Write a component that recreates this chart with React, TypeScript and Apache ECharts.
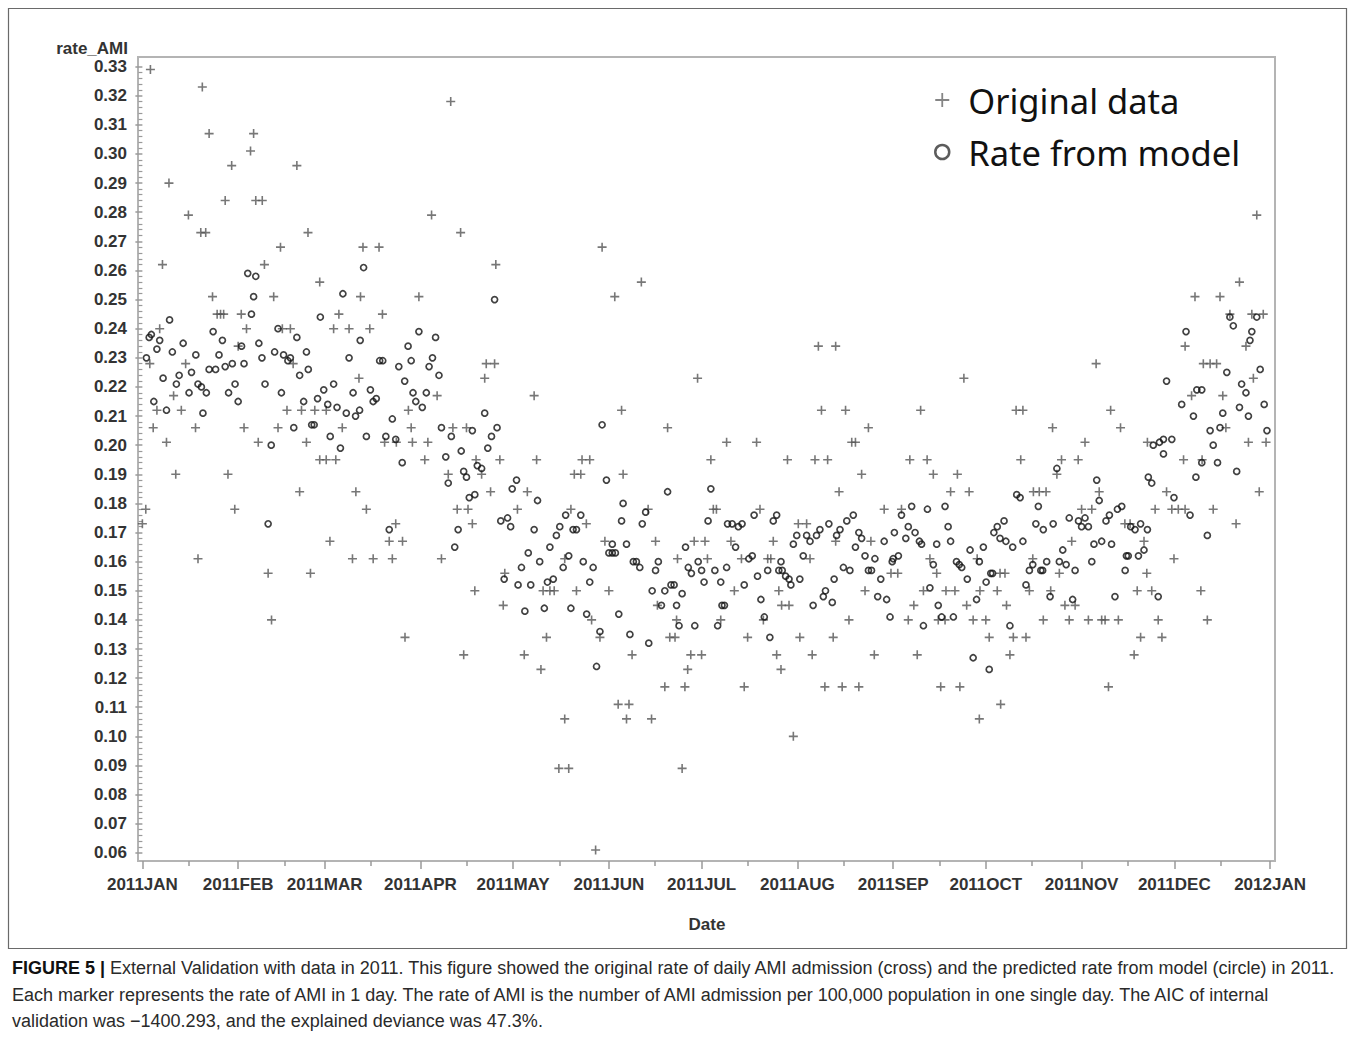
import React, { useEffect, useRef } from 'react';
import * as echarts from 'echarts';

// Day of year (0 = 2011-01-01) where each month starts, and its label
const monthStartDays = [0, 31, 59, 90, 120, 151, 181, 212, 243, 273, 304, 334, 365];
const monthLabels = ['2011JAN', '2011FEB', '2011MAR', '2011APR', '2011MAY', '2011JUN', '2011JUL', '2011AUG', '2011SEP', '2011OCT', '2011NOV', '2011DEC', '2012JAN'];
const midMonthDays = [15, 46, 74, 105, 135, 166, 196, 227, 258, 288, 319, 349];
const yTickLabels = ['0.06', '0.07', '0.08', '0.09', '0.10', '0.11', '0.12', '0.13', '0.14', '0.15', '0.16', '0.17', '0.18', '0.19', '0.20', '0.21', '0.22', '0.23', '0.24', '0.25', '0.26', '0.27', '0.28', '0.29', '0.30', '0.31', '0.32', '0.33'];

// Original data (cross): [day of year, rate_AMI]
const originalData: [number, number][] = [
  [2.6, 0.329], [19.4, 0.323], [21.6, 0.307], [36, 0.307], [35, 0.301], [28.9, 0.296], [50, 0.296], [8.6, 0.290], [26.8, 0.284], [36.7, 0.284], [38.8, 0.284], [14.9, 0.279], [18.9, 0.273], [20.5, 0.273], [53.6, 0.273], [93.6, 0.279], [99.8, 0.318], [103, 0.273], [6.5, 0.262], [39.5, 0.262], [44.7, 0.268], [71.4, 0.268], [76.6, 0.268], [57.4, 0.256], [114.4, 0.262], [22.7, 0.251], [42.5, 0.251], [70.6, 0.251], [89.5, 0.251], [24.2, 0.245], [25.3, 0.245], [26.3, 0.245], [32, 0.245], [63.6, 0.245], [77.7, 0.245], [5.6, 0.240], [33.7, 0.240], [45.3, 0.240], [47.9, 0.240], [61.9, 0.240], [66.9, 0.240], [73.6, 0.240], [31, 0.234], [2.4, 0.228], [14, 0.228], [48.8, 0.228], [111.3, 0.228], [114, 0.228], [10.1, 0.217], [70.1, 0.223], [110.8, 0.223], [95.4, 0.217], [4.7, 0.212], [12.6, 0.212], [46.8, 0.212], [51.5, 0.212], [55.8, 0.212], [59.5, 0.212], [86.1, 0.212], [3.5, 0.206], [17.2, 0.206], [32.9, 0.206], [43.9, 0.206], [64.7, 0.206], [87, 0.206], [100.5, 0.206], [104.9, 0.206], [7.8, 0.201], [37.5, 0.201], [53.1, 0.201], [78.4, 0.201], [82.2, 0.201], [87.4, 0.201], [92.4, 0.201], [57.4, 0.195], [59.5, 0.195], [62.6, 0.195], [91.4, 0.195], [108, 0.195],
  [0, 0.173], [1.1, 0.178], [10.8, 0.190], [18, 0.161], [27.7, 0.190], [29.9, 0.178], [40.7, 0.156], [41.8, 0.140], [50.9, 0.184], [54.4, 0.156], [60.7, 0.167], [68, 0.161], [69.1, 0.184], [72.5, 0.178], [74.7, 0.161], [79.9, 0.167], [80.9, 0.161], [82, 0.173], [84.2, 0.167], [85, 0.134], [96.8, 0.161], [99, 0.190], [101.9, 0.178], [104, 0.128], [105.4, 0.178], [106.8, 0.173], [107.6, 0.150], [109.8, 0.190], [112.7, 0.184],
  [148.8, 0.268], [152.9, 0.251], [161.5, 0.256], [126.8, 0.217], [179.7, 0.223], [218.8, 0.234], [224.4, 0.234], [155.1, 0.212], [170, 0.206], [219.8, 0.212], [227.6, 0.212], [235, 0.206], [189.1, 0.201], [198.8, 0.201], [229.6, 0.201], [230.8, 0.201], [115.7, 0.195], [127.6, 0.195], [142.3, 0.195], [144.8, 0.195], [184, 0.195], [208.8, 0.195], [217.7, 0.195], [221.8, 0.195],
  [139.8, 0.190], [141.9, 0.190], [155.6, 0.190], [232.8, 0.190], [124.6, 0.184], [225.5, 0.184], [121.4, 0.178], [138.7, 0.178], [143.7, 0.173], [163.7, 0.178], [184.8, 0.178], [185.8, 0.178], [199.9, 0.178], [240.1, 0.178], [117.3, 0.156], [149.7, 0.167], [166.1, 0.167], [173.2, 0.161], [178.6, 0.167], [182.1, 0.167], [182.9, 0.161], [190.5, 0.167], [193.9, 0.161], [202.4, 0.161], [203.4, 0.161], [204.2, 0.167], [212.3, 0.173], [215, 0.173], [224.4, 0.167], [235.8, 0.167], [242.3, 0.156], [216.1, 0.161], [136.7, 0.161], [129.7, 0.150], [131.9, 0.150], [133.3, 0.150], [140.5, 0.150], [151, 0.150], [191.6, 0.150], [206, 0.150], [233.9, 0.150], [116.8, 0.145], [166.7, 0.145], [206.9, 0.145], [209.3, 0.145], [145.4, 0.140], [172.9, 0.140], [187.2, 0.140], [201, 0.140], [228.7, 0.140], [130.8, 0.134], [148.1, 0.134], [170.7, 0.134], [172.4, 0.134], [195.9, 0.134], [212.8, 0.134], [223.6, 0.134], [123.6, 0.128], [158.5, 0.128], [177.5, 0.128], [181, 0.128], [205.3, 0.128], [216.8, 0.128], [236.9, 0.128], [129, 0.123], [176.5, 0.123], [206.7, 0.123], [169.1, 0.117], [175.6, 0.117], [194.8, 0.117], [220.9, 0.117], [226.5, 0.117], [231.9, 0.117], [154, 0.111], [157.5, 0.111], [136.7, 0.106], [156.7, 0.106], [164.8, 0.106], [210.7, 0.100], [134.8, 0.089], [138, 0.089], [174.7, 0.089], [146.7, 0.061],
  [360.7, 0.279], [355.1, 0.256], [340.7, 0.251], [348.8, 0.251], [352, 0.245], [359.1, 0.245], [362.8, 0.245], [357.2, 0.234], [337.5, 0.234], [343.4, 0.228], [345.6, 0.228], [347.7, 0.228], [308.7, 0.228], [265.9, 0.223], [339.6, 0.217], [349.7, 0.217], [359.6, 0.223], [251.9, 0.212], [282.8, 0.212], [285, 0.212], [313.4, 0.212], [294.6, 0.206], [316.6, 0.206], [350.7, 0.206], [305.1, 0.201], [325.3, 0.201], [358, 0.201], [363.7, 0.201], [248.4, 0.195], [254, 0.195], [284.3, 0.195], [297.5, 0.195], [302.9, 0.195], [337, 0.195], [343, 0.195],
  [256, 0.190], [263.8, 0.190], [296, 0.190], [261.6, 0.184], [267.6, 0.184], [288.4, 0.184], [290.3, 0.184], [292.5, 0.184], [309.7, 0.184], [331.5, 0.184], [361.5, 0.184], [245.7, 0.178], [304, 0.178], [307.3, 0.178], [327.8, 0.178], [333.2, 0.178], [335.3, 0.178], [337.5, 0.178], [346.6, 0.178], [354, 0.173], [244.5, 0.156], [254.9, 0.161], [257.1, 0.156], [270.2, 0.161], [277.6, 0.156], [279.2, 0.156], [288.2, 0.161], [296.8, 0.156], [300.8, 0.167], [318, 0.173], [319.7, 0.173], [324.2, 0.167], [325.1, 0.156], [333.9, 0.161], [252.8, 0.150], [260.1, 0.150], [263, 0.150], [271.1, 0.150], [276.7, 0.150], [287.1, 0.150], [294, 0.150], [322, 0.150], [326.7, 0.150], [342.6, 0.150], [249.7, 0.145], [266.8, 0.145], [279.7, 0.145], [298.6, 0.145], [301.9, 0.145], [247.9, 0.140], [257.6, 0.140], [259.8, 0.140], [268.9, 0.140], [273, 0.140], [291.6, 0.140], [300, 0.140], [306.2, 0.140], [310.5, 0.140], [311.6, 0.140], [315.9, 0.140], [328.8, 0.140], [344.7, 0.140], [274.1, 0.134], [281.9, 0.134], [286, 0.134], [323.1, 0.134], [330, 0.134], [250.8, 0.128], [280.8, 0.128], [321, 0.128], [258.4, 0.117], [264.6, 0.117], [312.7, 0.117], [277.8, 0.111], [270.9, 0.106],
];

// Rate from model (circle): [day of year, rate_AMI]
const modelData: [number, number][] = [
  [1.3, 0.230], [2.2, 0.237], [2.9, 0.238], [5.6, 0.236], [4.7, 0.233], [3.7, 0.215], [6.7, 0.223], [7.8, 0.212], [8.8, 0.243], [9.7, 0.232], [11, 0.221], [11.9, 0.224], [13.2, 0.235], [15.1, 0.218], [15.9, 0.225], [17.3, 0.231], [18, 0.221], [19.6, 0.211], [19.1, 0.220], [20.7, 0.218], [21.6, 0.226], [22.9, 0.239], [23.7, 0.226], [24.8, 0.231], [25.9, 0.236], [26.8, 0.227], [27.9, 0.218], [29.1, 0.228], [30, 0.221], [31, 0.215], [32.1, 0.234], [32.9, 0.228], [34.1, 0.259], [35.3, 0.245], [36.7, 0.258], [36, 0.251], [37.7, 0.235], [38.7, 0.230], [39.7, 0.221], [41.7, 0.200], [42.8, 0.232], [43.9, 0.240], [45, 0.218], [45.7, 0.231], [47.1, 0.229], [47.9, 0.230], [49, 0.206], [50, 0.237], [50.9, 0.224], [52.2, 0.215], [53.1, 0.232], [53.7, 0.226], [54.8, 0.207], [55.6, 0.207], [56.7, 0.216], [57.6, 0.244], [58.7, 0.219], [60, 0.214], [60.8, 0.203], [61.9, 0.221], [63, 0.213], [64.1, 0.199], [64.9, 0.252], [66, 0.211], [66.9, 0.230], [68.2, 0.218], [69, 0.210], [70.3, 0.212], [70.5, 0.236], [71.6, 0.261], [72.5, 0.203], [73.8, 0.219], [74.7, 0.215], [75.7, 0.216], [76.8, 0.229], [77.8, 0.229], [78.8, 0.203], [80.9, 0.209], [82, 0.202], [83, 0.227], [84.1, 0.194], [84.9, 0.222], [86, 0.234], [87, 0.229], [87.6, 0.218], [88.5, 0.215], [89.5, 0.239], [90.6, 0.213], [91.9, 0.218], [92.8, 0.227], [93.9, 0.230], [94.9, 0.237], [96, 0.224], [96.8, 0.206], [98.2, 0.196], [100, 0.203], [103.2, 0.198], [106.8, 0.205], [110.8, 0.211], [111.8, 0.199], [113, 0.203], [114, 0.250], [114.8, 0.206],
  [148.8, 0.207],
  [40.7, 0.173], [79.9, 0.171], [99, 0.187], [101.1, 0.165], [102.2, 0.171], [104, 0.191], [104.9, 0.189], [105.8, 0.182], [107.6, 0.183], [108.4, 0.193], [109.8, 0.192],
  [116, 0.174], [121.1, 0.188], [119.7, 0.185], [127.9, 0.181], [118.2, 0.175], [119.2, 0.172], [126.8, 0.171], [124.9, 0.163], [122.7, 0.158], [117.1, 0.154], [121.6, 0.152], [125.7, 0.152], [123.8, 0.143], [130.1, 0.144], [128.6, 0.160], [131.1, 0.153], [133, 0.154], [131.9, 0.165], [134, 0.169], [135.1, 0.172], [137, 0.176], [136.2, 0.158], [138, 0.162], [139.4, 0.171], [140.5, 0.171], [141.9, 0.176], [138.7, 0.144], [142.7, 0.160], [144.8, 0.153], [145.9, 0.158], [143.8, 0.142], [148.1, 0.136], [147, 0.124], [150.2, 0.188], [151, 0.163], [152.1, 0.163], [152.1, 0.166], [153.1, 0.163], [154.2, 0.142], [155.1, 0.174], [155.6, 0.180], [156.7, 0.166], [157.8, 0.135], [158.9, 0.160], [159.9, 0.160], [161, 0.158], [161.8, 0.173], [162.9, 0.177], [163.9, 0.132], [165, 0.150], [166.1, 0.157], [167, 0.160], [168, 0.145], [169.1, 0.150], [170, 0.184], [171.1, 0.152], [172.1, 0.152], [172.9, 0.145], [173.7, 0.138], [174.7, 0.149], [175.8, 0.165], [176.7, 0.158], [177.7, 0.156], [178.8, 0.138], [179.9, 0.160], [181, 0.157], [181.8, 0.153], [183.1, 0.174], [184, 0.185], [185.3, 0.157], [186.2, 0.138], [187.2, 0.153], [187.6, 0.145], [188.4, 0.145], [189.1, 0.158], [189.4, 0.173], [190.9, 0.173], [192, 0.165], [192.9, 0.172], [194.1, 0.173], [194.8, 0.152], [196.3, 0.161], [197.4, 0.162], [198, 0.176], [199.1, 0.155], [200.2, 0.147], [201.3, 0.141], [202.4, 0.157], [203.1, 0.134], [204.2, 0.174], [205.3, 0.176], [206, 0.157], [207.1, 0.157], [208.2, 0.155], [209.3, 0.154], [209.9, 0.152], [206.7, 0.160], [210.7, 0.166], [211.8, 0.169], [212.8, 0.154], [213.9, 0.162], [215, 0.169], [216.1, 0.167], [217.1, 0.145], [218.2, 0.169], [219.3, 0.171], [220.4, 0.148], [221.1, 0.150], [222.2, 0.173], [223.3, 0.146], [223.9, 0.154], [224.7, 0.169], [225.8, 0.171], [226.9, 0.158], [229, 0.157], [228, 0.174], [230.1, 0.176], [230.8, 0.165], [231.9, 0.170], [232.8, 0.168], [233.9, 0.162], [235, 0.157], [236, 0.157], [237.1, 0.161], [238, 0.148], [239, 0.154], [240.1, 0.167], [240.9, 0.147], [242, 0.141], [242.7, 0.160], [243.4, 0.170],
  [337.8, 0.239], [352, 0.244], [353.1, 0.241], [360.7, 0.244], [359.1, 0.239], [358.5, 0.236], [351, 0.225], [331.5, 0.222], [341.3, 0.219], [342.9, 0.219], [361.8, 0.226], [355.8, 0.221], [357.2, 0.218], [336.4, 0.214], [340.2, 0.210], [349.7, 0.211], [355.1, 0.213], [358, 0.210], [363.1, 0.214], [345.6, 0.205], [348.8, 0.206], [364, 0.205], [346.6, 0.200], [327.2, 0.200], [329.2, 0.201], [330.5, 0.202], [333.2, 0.202], [330.5, 0.197],
  [342.9, 0.194], [348, 0.194], [354.2, 0.191], [341, 0.189], [325.6, 0.189], [326.7, 0.187], [296, 0.192], [308.9, 0.188], [333.9, 0.182], [339.1, 0.176], [344.7, 0.169], [309.7, 0.181], [283, 0.183], [284.1, 0.182], [290, 0.179], [245.7, 0.176], [249, 0.179], [254.1, 0.178], [259.8, 0.179], [247.1, 0.168], [247.9, 0.172], [250.1, 0.170], [251.5, 0.167], [252.2, 0.166], [260.8, 0.172], [261.6, 0.167], [257.1, 0.166], [243, 0.161], [244.7, 0.162], [256, 0.159], [254.9, 0.151], [257.6, 0.145], [258.7, 0.141], [252.8, 0.138], [262.5, 0.141], [263.5, 0.160], [264.4, 0.159], [265.2, 0.158], [267, 0.154], [267.9, 0.164], [270.9, 0.160], [272.2, 0.165], [270, 0.147], [268.9, 0.127], [274.1, 0.123], [273.1, 0.153], [274.6, 0.156], [275.2, 0.156], [275.6, 0.170], [276.7, 0.172], [278.9, 0.174], [277.6, 0.168], [279.5, 0.167], [281.7, 0.165], [285, 0.167], [280.8, 0.138], [286, 0.152], [287.1, 0.157], [288.2, 0.159], [289.2, 0.173], [291.6, 0.171], [290.8, 0.157], [291.4, 0.157], [292.7, 0.160], [293.8, 0.148], [294.8, 0.173], [296.8, 0.160], [297.9, 0.164], [299, 0.159], [300, 0.175], [301.1, 0.147], [301.9, 0.157], [303, 0.174], [304, 0.172], [305.1, 0.175], [306.2, 0.172], [307.3, 0.160], [308, 0.166], [310.5, 0.167], [311.9, 0.174], [313, 0.176], [313.7, 0.166], [314.8, 0.148], [315.6, 0.178], [317, 0.179], [318.1, 0.157], [318.5, 0.162], [319.1, 0.162], [319.9, 0.172], [321.3, 0.171], [322.4, 0.162], [323.1, 0.173], [324.2, 0.164], [325.3, 0.171], [328.8, 0.148],
];

const legendNames = ['Original data', 'Rate from model'];
const captionLines = [
  '{b|FIGURE 5 |} External Validation with data in 2011. This figure showed the original rate of daily AMI admission (cross) and the predicted rate from model (circle) in 2011.',
  'Each marker represents the rate of AMI in 1 day. The rate of AMI is the number of AMI admission per 100,000 population in one single day. The AIC of internal',
  'validation was \u22121400.293, and the explained deviance was 47.3%.',
];

const PLUS = 'path://M0,5L10,5M5,0L5,10';
const AXIS_FONT = '"Liberation Sans", Arial, sans-serif';

export default function App() {
  const ref = useRef<HTMLDivElement | null>(null);

  useEffect(() => {
    document.body.style.margin = '0';
    if (!ref.current) return;
    const chart = echarts.init(ref.current, undefined, { renderer: 'svg' });

    const yMajor = yTickLabels.map((s) => parseFloat(s));
    const yMinor: number[] = [];
    yMajor.forEach((v, i) => {
      if (i < yMajor.length - 1) {
        for (let k = 1; k < 5; k++) yMinor.push(Math.round((v + k * 0.002) * 10000) / 10000);
      }
    });
    const xMin = -1.42;
    const xMax = 366.6;
    const yMin = 0.0572;
    const yMax = 0.3333;
    const tickColor = '#9a9a9a';
    const labelStyle = { fontSize: 17, fontWeight: 'bold', color: '#333', fontFamily: AXIS_FONT };

    const option: any = {
      animation: false,
      backgroundColor: '#ffffff',
      grid: { left: 138, right: 80, top: 57, bottom: 195, show: true, borderColor: '#b4b4b4', borderWidth: 2, backgroundColor: 'transparent' },
      xAxis: [
        {
          type: 'value', position: 'bottom', min: xMin, max: xMax,
          axisLine: { show: false }, splitLine: { show: false },
          axisTick: { show: true, inside: false, customValues: monthStartDays, length: 8, lineStyle: { color: tickColor, width: 1.5 } },
          axisLabel: {
            show: true, customValues: monthStartDays, margin: 15, ...labelStyle,
            formatter: (v: number) => { const i = monthStartDays.indexOf(Math.round(v)); return i >= 0 ? monthLabels[i] : ''; },
          },
        },
        {
          type: 'value', position: 'bottom', offset: 0, min: xMin, max: xMax,
          axisLine: { show: false }, splitLine: { show: false }, axisLabel: { show: false },
          axisTick: { show: true, inside: false, customValues: midMonthDays, length: 5, lineStyle: { color: tickColor, width: 1.5 } },
        },
      ],
      yAxis: [
        {
          type: 'value', position: 'left', min: yMin, max: yMax,
          axisLine: { show: false }, splitLine: { show: false },
          axisTick: { show: true, inside: false, customValues: yMajor, length: 7, lineStyle: { color: tickColor, width: 1.5 } },
          axisLabel: { show: true, customValues: yMajor, margin: 11, ...labelStyle, formatter: (v: number) => v.toFixed(2) },
        },
        {
          type: 'value', position: 'left', offset: 0, min: yMin, max: yMax,
          axisLine: { show: false }, splitLine: { show: false }, axisLabel: { show: false },
          axisTick: { show: true, inside: false, customValues: yMinor, length: 4, lineStyle: { color: tickColor, width: 1.2 } },
        },
      ],
      legend: {
        orient: 'vertical', left: 929, top: 74, itemGap: 10, itemWidth: 14, itemHeight: 14,
        selectedMode: false,
        textStyle: { fontSize: 34.5, color: '#111', fontFamily: '"Noto Sans", "Open Sans", sans-serif', lineHeight: 42, padding: [0, 0, 0, 14] },
        data: [
          { name: legendNames[0], icon: PLUS, itemStyle: { color: 'rgba(0,0,0,0)', borderColor: '#666', borderWidth: 1.8 } },
          { name: legendNames[1], icon: 'circle', itemStyle: { color: 'rgba(0,0,0,0)', borderColor: '#333', borderWidth: 2.5 } },
        ],
      },
      series: [
        {
          name: legendNames[0], type: 'scatter', xAxisIndex: 0, yAxisIndex: 0, data: originalData,
          symbol: PLUS, symbolSize: 9, z: 2,
          itemStyle: { color: 'rgba(0,0,0,0)', borderColor: '#555', borderWidth: 1.6 },
          emphasis: { disabled: true },
        },
        {
          name: legendNames[1], type: 'scatter', xAxisIndex: 0, yAxisIndex: 0, data: modelData,
          symbol: 'circle', symbolSize: 6, z: 3,
          itemStyle: { color: 'rgba(0,0,0,0)', borderColor: '#111', borderWidth: 1.7 },
          emphasis: { disabled: true },
        },
      ],
      graphic: [
        { type: 'rect', silent: true, shape: { x: 8.5, y: 8.5, width: 1338, height: 940 }, style: { fill: 'none', stroke: '#6a6a6a', lineWidth: 1.2 } },
        { type: 'text', x: 128, y: 48, style: { text: 'rate_AMI', align: 'right', verticalAlign: 'middle', font: 'bold 17px ' + AXIS_FONT, fill: '#333' } },
        { type: 'text', x: 707, y: 924, style: { text: 'Date', align: 'center', verticalAlign: 'middle', font: 'bold 17px ' + AXIS_FONT, fill: '#333' } },
        ...captionLines.map((t, i) => ({
          type: 'text', x: 12, y: 968 + i * 26.5,
          style: {
            text: t, align: 'left', verticalAlign: 'middle',
            font: '18px ' + AXIS_FONT, fill: '#2a2a2a',
            rich: { b: { font: 'bold 18px ' + AXIS_FONT, fill: '#111' } },
          },
        })),
      ],
    };

    chart.setOption(option);
    return () => chart.dispose();
  }, []);

  return <div ref={ref} style={{ width: 1355, height: 1056 }} />;
}
